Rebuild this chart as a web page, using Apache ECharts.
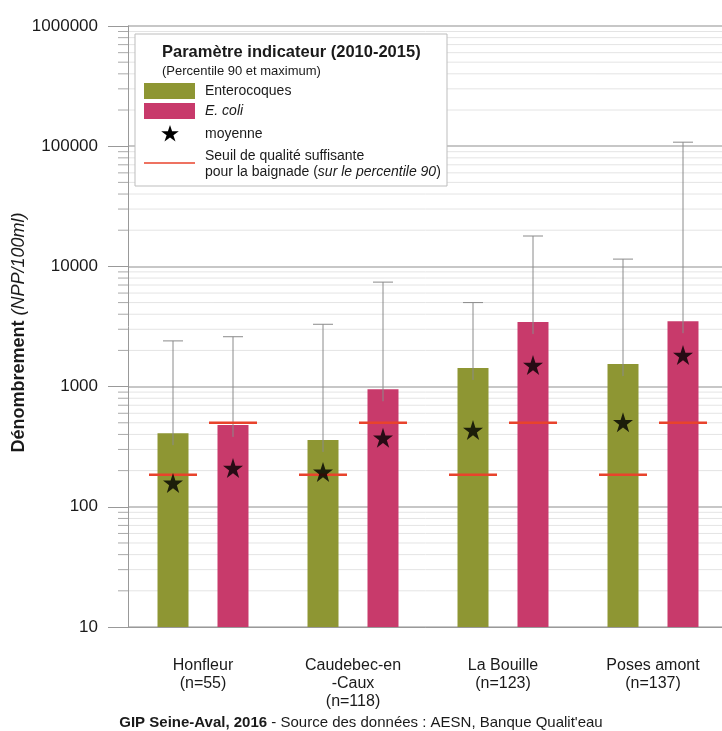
<!DOCTYPE html>
<html>
<head>
<meta charset="utf-8">
<script src="https://cdn.jsdelivr.net/npm/echarts@6/dist/echarts.min.js"></script>
<style>
html, body { margin: 0; padding: 0; background: #fff; }
#chart { width: 722px; height: 731px; }
</style>
</head>
<body>
<div id="chart"></div>
<script>
// données
var categories = ['Honfleur\n(n=55)', 'Caudebec-en\n-Caux\n(n=118)', 'La Bouille\n(n=123)', 'Poses amont\n(n=137)'];
var enteroP90 = [410, 360, 1430, 1540];
var ecoliP90 = [480, 950, 3450, 3500];
var enteroMax = [2400, 3300, 5000, 11500];
var ecoliMax = [2600, 7400, 17900, 108000];
var enteroMean = [158, 195, 435, 505];
var ecoliMean = [210, 375, 1510, 1830];
var enteroSeuil = [185, 185, 185, 185];
var ecoliSeuil = [500, 500, 500, 500];
var minorTicks = [20, 30, 40, 50, 60, 70, 80, 90,
  200, 300, 400, 500, 600, 700, 800, 900,
  2000, 3000, 4000, 5000, 6000, 7000, 8000, 9000,
  20000, 30000, 40000, 50000, 60000, 70000, 80000, 90000,
  200000, 300000, 400000, 500000, 600000, 700000, 800000, 900000];

var GREEN = '#8e9633';
var PINK = '#c83a6b';
var RED = '#e8432c';
var STAR = 'path://M50,0 L61.8,35.1 L98.9,35.1 L68.9,56.8 L80.3,91.9 L50,70.2 L19.7,91.9 L31.1,56.8 L1.1,35.1 L38.2,35.1 Z';
var FONT = 'Liberation Sans';

var myChart = echarts.init(document.getElementById('chart'));

function errorBar(offset) {
  return function (params, api) {
    var base = api.coord([api.value(0), api.value(1)]);
    var top = api.coord([api.value(0), api.value(2)]);
    var cx = base[0] + offset;
    var st = { stroke: '#8a8a8a', lineWidth: 1 };
    return {
      type: 'group',
      children: [
        { type: 'line', shape: { x1: cx, y1: base[1] + 12, x2: cx, y2: top[1] }, style: st },
        { type: 'line', shape: { x1: cx - 10, y1: top[1], x2: cx + 10, y2: top[1] }, style: st }
      ]
    };
  };
}

function seuil(offset) {
  return function (params, api) {
    var p = api.coord([api.value(0), api.value(1)]);
    var cx = p[0] + offset;
    return {
      type: 'line',
      shape: { x1: cx - 24, y1: p[1], x2: cx + 24, y2: p[1] },
      style: { stroke: RED, lineWidth: 2.5 }
    };
  };
}

function pairs(a, b) {
  return categories.map(function (c, i) { return b ? [i, a[i], b[i]] : [i, a[i]]; });
}

// légende dessinée à la main (encadré)
var Z = 100;
var legendItems = [
  { type: 'rect', z: Z, shape: { x: 135, y: 34, width: 312, height: 152 }, style: { fill: '#fff', stroke: '#bdbdbd', lineWidth: 1 } },
  { type: 'text', z: Z, x: 162, y: 44, style: { text: 'Paramètre indicateur (2010-2015)', font: 'bold 16.5px "Liberation Sans"', fill: '#1a1a1a' } },
  { type: 'text', z: Z, x: 162, y: 65, style: { text: '(Percentile 90 et maximum)', font: '13px "Liberation Sans"', fill: '#1a1a1a' } },
  { type: 'rect', z: Z, shape: { x: 144, y: 83, width: 51, height: 16 }, style: { fill: GREEN } },
  { type: 'text', z: Z, x: 205, y: 91, style: { text: 'Enterocoques', font: '14px "Liberation Sans"', fill: '#1a1a1a', verticalAlign: 'middle' } },
  { type: 'rect', z: Z, shape: { x: 144, y: 103, width: 51, height: 16 }, style: { fill: PINK } },
  { type: 'text', z: Z, x: 205, y: 111, style: { text: 'E. coli', font: 'italic 14px "Liberation Sans"', fill: '#1a1a1a', verticalAlign: 'middle' } },
  { type: 'polygon', z: Z, shape: { points: [[170, 125], [172.1, 131.3], [178.8, 131.3], [173.4, 135.2], [175.5, 141.5], [170, 137.6], [164.5, 141.5], [166.6, 135.2], [161.2, 131.3], [167.9, 131.3]] }, style: { fill: '#000' } },
  { type: 'text', z: Z, x: 205, y: 134, style: { text: 'moyenne', font: '14px "Liberation Sans"', fill: '#1a1a1a', verticalAlign: 'middle' } },
  { type: 'line', z: Z, shape: { x1: 144, y1: 163, x2: 195, y2: 163 }, style: { stroke: RED, lineWidth: 1.5 } },
  { type: 'text', z: Z, x: 205, y: 156, style: { text: 'Seuil de qualité suffisante', font: '14px "Liberation Sans"', fill: '#1a1a1a', verticalAlign: 'middle' } },
  { type: 'text', z: Z, x: 205, y: 172, style: {
    text: 'pour la baignade ({i|sur le percentile 90})', font: '14px "Liberation Sans"', fill: '#1a1a1a', verticalAlign: 'middle',
    rich: { i: { fontStyle: 'italic', fontSize: 14, fontFamily: FONT } }
  } },
  {
    type: 'text', left: 'center', top: 715, z: Z,
    style: {
      text: '{b|GIP Seine-Aval, 2016} - Source des données : AESN, Banque Qualit\'eau',
      font: '15px "Liberation Sans"', fill: '#1a1a1a',
      rich: { b: { fontWeight: 'bold', fontSize: 15, fontFamily: FONT } }
    }
  }
];

var option = {
  textStyle: { fontFamily: FONT },
  animation: false,
  grid: { left: 128, top: 26, width: 600, height: 601, containLabel: false, outerBoundsMode: 'none' },
  xAxis: {
    type: 'category',
    data: categories,
    axisLine: { lineStyle: { color: '#999', width: 1 } },
    axisTick: { alignWithLabel: true, length: 18, lineStyle: { color: '#999' } },
    axisLabel: { fontSize: 16, color: '#1a1a1a', margin: 30, lineHeight: 18, fontFamily: FONT },
    splitLine: { show: false }
  },
  yAxis: {
    type: 'log',
    logBase: 10,
    min: 10,
    max: 1000000,
    name: '{b|Dénombrement} {i|(NPP/100ml)}',
    nameLocation: 'middle',
    nameRotate: 90,
    nameGap: 100,
    nameMoveOverlap: false,
    nameTextStyle: {
      fontSize: 18, color: '#1a1a1a', fontFamily: FONT,
      padding: [0, 12, 0, 0],
      rich: {
        b: { fontSize: 18, fontWeight: 'bold', color: '#1a1a1a', fontFamily: FONT },
        i: { fontSize: 18, fontStyle: 'italic', color: '#1a1a1a', fontFamily: FONT }
      }
    },
    axisLine: { show: true, lineStyle: { color: '#999', width: 1 } },
    axisTick: { show: true, length: 20, lineStyle: { color: '#999' } },
    axisLabel: {
      fontSize: 17, color: '#1a1a1a', margin: 30, fontFamily: FONT,
      formatter: function (v) { return String(v); }
    },
    splitLine: { show: true, lineStyle: { color: '#b5b5b5', width: 1.5 } }
  },
  graphic: legendItems,
  series: [
    {
      name: 'grille mineure',
      type: 'custom',
      silent: true,
      clip: false,
      z: 0,
      data: minorTicks.map(function (v) { return [0, v]; }),
      encode: { x: 0, y: 1 },
      renderItem: function (params, api) {
        var p = api.coord([0, api.value(1)]);
        var cs = params.coordSys;
        return {
          type: 'group',
          children: [
            { type: 'line', shape: { x1: cs.x, y1: p[1], x2: cs.x + cs.width, y2: p[1] }, style: { stroke: '#e4e4e4', lineWidth: 1 } },
            { type: 'line', shape: { x1: cs.x - 10, y1: p[1], x2: cs.x, y2: p[1] }, style: { stroke: '#aaa', lineWidth: 1 } }
          ]
        };
      }
    },
    {
      name: 'Enterocoques',
      type: 'bar',
      barWidth: 31,
      barGap: '93.5%',
      z: 2,
      itemStyle: { color: GREEN },
      data: enteroP90
    },
    {
      name: 'E. coli',
      type: 'bar',
      barWidth: 31,
      barGap: '93.5%',
      z: 2,
      itemStyle: { color: PINK },
      data: ecoliP90
    },
    {
      name: 'max Enterocoques', type: 'custom', z: 3, silent: true,
      data: pairs(enteroP90, enteroMax), encode: { x: 0, y: [1, 2] },
      renderItem: errorBar(-30)
    },
    {
      name: 'max E. coli', type: 'custom', z: 3, silent: true,
      data: pairs(ecoliP90, ecoliMax), encode: { x: 0, y: [1, 2] },
      renderItem: errorBar(30)
    },
    {
      name: 'seuil Enterocoques', type: 'custom', z: 4, silent: true,
      data: pairs(enteroSeuil), encode: { x: 0, y: 1 },
      renderItem: seuil(-30)
    },
    {
      name: 'seuil E. coli', type: 'custom', z: 4, silent: true,
      data: pairs(ecoliSeuil), encode: { x: 0, y: 1 },
      renderItem: seuil(30)
    },
    {
      name: 'moyenne Enterocoques', type: 'scatter', z: 5,
      symbol: STAR, symbolSize: 20, symbolOffset: [-30, 0],
      itemStyle: { color: '#000' },
      data: enteroMean
    },
    {
      name: 'moyenne E. coli', type: 'scatter', z: 5,
      symbol: STAR, symbolSize: 20, symbolOffset: [30, 0],
      itemStyle: { color: '#000' },
      data: ecoliMean
    }
  ]
};

myChart.setOption(option);
</script>
</body>
</html>
